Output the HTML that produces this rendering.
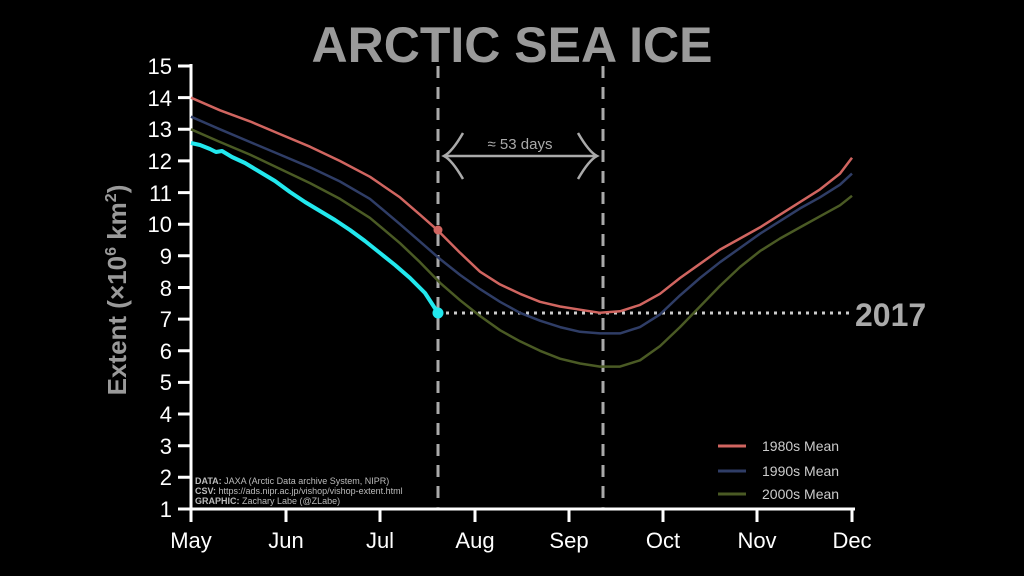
<!DOCTYPE html>
<html><head><meta charset="utf-8"><style>
html,body{margin:0;padding:0;background:#000;width:1024px;height:576px;overflow:hidden}
svg text{font-family:"Liberation Sans",sans-serif}
</style></head><body>
<svg width="1024" height="576" viewBox="0 0 1024 576" xmlns="http://www.w3.org/2000/svg">
<rect width="1024" height="576" fill="#000"/>
<text x="512" y="62" text-anchor="middle" font-size="50" font-weight="bold" fill="#9a9a9a">ARCTIC SEA ICE</text>
<text transform="translate(126,290) rotate(-90)" text-anchor="middle" font-size="26" font-weight="bold" fill="#9a9a9a">Extent (×10<tspan font-size="16" dy="-10">6</tspan><tspan dy="10"> km</tspan><tspan font-size="16" dy="-10">2</tspan><tspan dy="10">)</tspan></text>
<g stroke="#fff" stroke-width="3" fill="none">
<line x1="191" y1="64" x2="191" y2="510"/>
<line x1="190" y1="509" x2="855" y2="509"/>
<path d="M178 66H191M178 97.6H191M178 129.3H191M178 160.9H191M178 192.6H191M178 224.2H191M178 255.8H191M178 287.5H191M178 319.1H191M178 350.8H191M178 382.4H191M178 414H191M178 445.7H191M178 477.3H191M178 509H191"/>
<path d="M191 509V522M286 509V522M380 509V522M475 509V522M569 509V522M663 509V522M757 509V522M852 509V522"/>
</g>
<g fill="#fff" font-size="22" text-anchor="end">
<text x="172" y="74">15</text><text x="172" y="106">14</text><text x="172" y="137">13</text><text x="172" y="169">12</text><text x="172" y="201">11</text><text x="172" y="232">10</text><text x="172" y="264">9</text><text x="172" y="296">8</text><text x="172" y="327">7</text><text x="172" y="359">6</text><text x="172" y="390">5</text><text x="172" y="422">4</text><text x="172" y="454">3</text><text x="172" y="485">2</text><text x="172" y="517">1</text>
</g>
<g fill="#fff" font-size="22" text-anchor="middle">
<text x="191" y="548">May</text><text x="286" y="548">Jun</text><text x="380" y="548">Jul</text><text x="475" y="548">Aug</text><text x="569" y="548">Sep</text><text x="663" y="548">Oct</text><text x="757" y="548">Nov</text><text x="852" y="548">Dec</text>
</g>
<g stroke="#aaa" stroke-width="3" stroke-dasharray="12,9">
<line x1="438" y1="66" x2="438" y2="508"/>
<line x1="603" y1="66" x2="603" y2="508"/>
</g>
<line x1="438" y1="313" x2="852" y2="313" stroke="#ccc" stroke-width="3" stroke-dasharray="3,5"/>
<text x="855" y="326" font-size="32" font-weight="bold" fill="#aaa">2017</text>
<g stroke="#aaa" stroke-width="2.5" fill="none">
<line x1="444" y1="156" x2="597" y2="156"/>
<path d="M463 133Q452 152 444 156Q452 160 463 179"/>
<path d="M578 133Q589 152 597 156Q589 160 578 179"/>
</g>
<text x="520" y="149" text-anchor="middle" font-size="15" fill="#aaa">≈ 53 days</text>
<g fill="none" stroke-width="2.5" stroke-linejoin="round">
<polyline stroke="#4a5a24" points="191,129.3 220,142 250,154.6 280,168.9 310,183.1 340,198.9 370,217.9 400,243.2 420,262.2 440,282.8 460,300.2 480,316 500,330.2 520,341.3 540,350.8 560,358.7 580,363.5 600,366.6 620,366.6 640,360.3 660,346.1 680,327.1 700,306.5 720,285.9 740,267 760,251.1 780,238.5 800,227.4 820,216.3 840,205.3 852,195.8"/>
<polyline stroke="#2f3d66" points="191,116.7 220,129.3 250,142 280,154.6 310,167.3 340,181.5 370,198.9 400,224.2 420,241.6 440,259 460,274.9 480,289.1 500,301.8 520,312.8 540,320.7 560,327.1 580,331.8 600,333.4 620,333.4 640,327.1 660,314.4 680,295.4 700,278 720,262.2 740,248 760,233.7 780,221.1 800,208.4 820,197.3 840,184.7 852,173.6"/>
<polyline stroke="#d06560" points="191,97.7 220,110.3 250,121.4 280,134.1 310,146.7 340,161 370,176.8 400,197.4 420,214.7 438,230.6 460,252.7 480,271.7 500,284.4 520,293.8 540,301.8 560,306.5 580,309.7 600,312.8 620,311.3 640,304.9 660,293.8 680,278 700,263.8 720,249.6 740,238.5 760,227.4 780,214.7 800,202.1 820,189.4 840,173.6 852,157.8"/>
</g>
<circle cx="438" cy="230" r="4.5" fill="#d06560"/>
<polyline fill="none" stroke="#22e8ee" stroke-width="4" stroke-linejoin="round" points="191,143 200,145 210,149 216,152 222,151 232,157 245,163 260,172 275,181 290,192 305,202 320,211 335,220 350,230 365,241 380,253 395,265 410,278 425,293 438,313"/>
<circle cx="438" cy="313" r="5.5" fill="#22e8ee"/>
<g stroke-width="3">
<line x1="718" y1="446" x2="746" y2="446" stroke="#d06560"/>
<line x1="718" y1="471" x2="746" y2="471" stroke="#2f3d66"/>
<line x1="718" y1="494" x2="746" y2="494" stroke="#4a5a24"/>
</g>
<g fill="#ccc" font-size="14">
<text x="762" y="451">1980s Mean</text><text x="762" y="476">1990s Mean</text><text x="762" y="499">2000s Mean</text>
</g>
<g fill="#bbb" font-size="9">
<text x="195" y="484"><tspan font-weight="bold">DATA:</tspan> JAXA (Arctic Data archive System, NIPR)</text>
<text x="195" y="494"><tspan font-weight="bold">CSV:</tspan> https://ads.nipr.ac.jp/vishop/vishop-extent.html</text>
<text x="195" y="504"><tspan font-weight="bold">GRAPHIC:</tspan> Zachary Labe (@ZLabe)</text>
</g>
</svg>
</body></html>
